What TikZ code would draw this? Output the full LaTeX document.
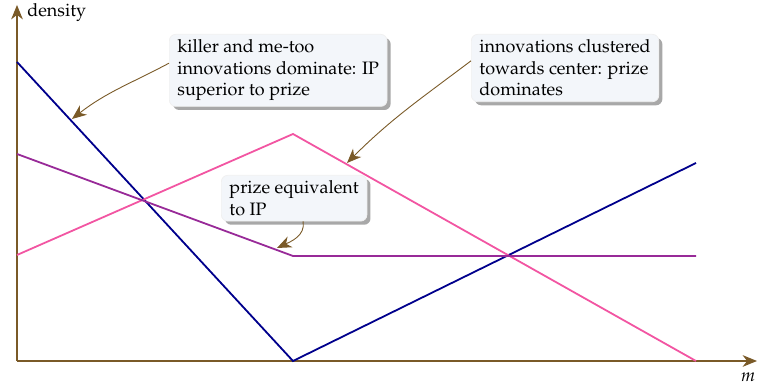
\documentclass[tikz,border=0pt]{standalone}
\usepackage[T1]{fontenc}
\usepackage{mathpazo}
\usetikzlibrary{arrows.meta,shadows}
\definecolor{axisbrown}{RGB}{122,90,40}
\definecolor{killblue}{RGB}{0,0,140}
\definecolor{centerpink}{RGB}{242,85,162}
\definecolor{prizepurple}{RGB}{152,42,152}
\definecolor{notefill}{RGB}{243,246,250}
\tikzset{
	axis/.style={axisbrown,line width=0.7pt},
	density/.style={line width=1pt},
	note/.style={fill=notefill,draw=gray!12,rounded corners=3.5pt,align=left,
		inner xsep=4.5pt,inner ysep=3pt,
		drop shadow={shadow xshift=2pt,shadow yshift=-2pt,fill=gray!68,opacity=1}},
	callout/.style={axisbrown,line width=0.5pt,->}
}
\begin{document}
\begin{tikzpicture}[>={Stealth[length=8pt,width=6.5pt,inset=2.5pt]},x=0.556pt,y=0.556pt]
	\def\c{276} % centre of the m range
	\def\e{679} % right end of the m range
	\useasboundingbox (-17,-25) rectangle (740,361);
	\coordinate (O) at (0,0);
	\draw[axis,->] (O) -- (740,0);
	\draw[axis,->] (O) -- (0,356);
	\node (mlabel) at (731,-16) {$m$};
	\node[anchor=base west,inner sep=0pt] (dlabel) at (10,344) {density};
	% the three densities
	\draw[density,killblue] (0,299) -- (\c,0) -- (\e,198);
	\draw[density,centerpink] (0,106) -- (\c,227) -- (\e,0);
	\draw[density,prizepurple] (0,207) -- (\c,105) -- (\e,105);
	% notes
	\node[note,anchor=north west] (killer) at (152,327) {killer and me-too\\innovations dominate: IP\\superior to prize};
	\node[note,anchor=north west] (cluster) at (454,327) {innovations clustered\\towards center: prize\\dominates};
	\node[note,anchor=north west] (equiv) at (204,186) {prize equivalent\\to IP};
	\coordinate (killtip) at (55,242);
	\coordinate (clustertip) at (330,198);
	\coordinate (equivtip) at (260,113);
	\draw[callout] ([yshift=4pt]killer.west) to[out=208,in=38] (killtip);
	\draw[callout] ([yshift=4pt]cluster.west) to[out=217,in=45] (clustertip);
	\draw[callout] ([xshift=5pt]equiv.south) to[out=-80,in=25] (equivtip);
\end{tikzpicture}
\end{document}
